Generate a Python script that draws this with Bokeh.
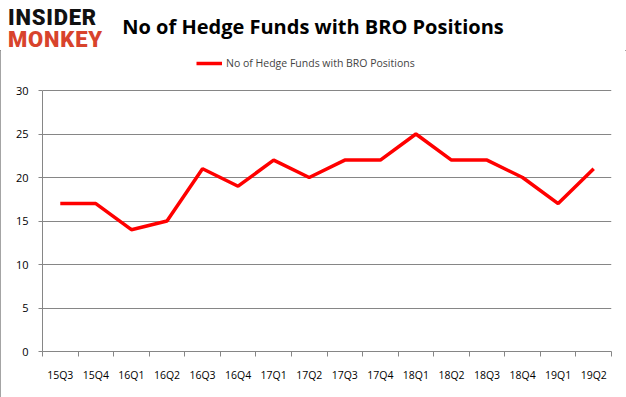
from bokeh.plotting import figure
from bokeh.layouts import column
from bokeh.models import (FixedTicker, Range1d, Legend, LegendItem,
                          ColumnDataSource, Div)
from bokeh.embed import file_html
from bokeh.resources import INLINE

quarters = ["15Q3", "15Q4", "16Q1", "16Q2", "16Q3", "16Q4", "17Q1", "17Q2",
            "17Q3", "17Q4", "18Q1", "18Q2", "18Q3", "18Q4", "19Q1", "19Q2"]
funds = [17, 17, 14, 15, 21, 19, 22, 20, 22, 22, 25, 22, 22, 20, 17, 21]
y_ticks = [0, 5, 10, 15, 20, 25, 30]
series_name = "No of Hedge Funds with BRO Positions"
title_text = "No of Hedge Funds with BRO Positions"

W, H = 626, 397
HEAD = 50                       # header (logo + title) height
FL, FR, FB = 42, 611, 351       # frame edges in page pixels
Y30 = 90                        # page y of the value 30
y_max = 30
n = len(quarters)
centers = [i + 0.5 for i in range(n)]
bounds = list(range(n + 1))
# frame begins right under the header so that the legend sits inside it
y_top = y_max * (FB - HEAD) / (FB - Y30)

GRAY = "#868686"
FONT = "Open Sans"

header = Div(width=W, height=HEAD, margin=(0, 0, 0, 0), text=f"""
<div style="position:relative;width:{W}px;height:{HEAD}px;background:white;">
  <span style="position:absolute;left:8px;top:8px;font-family:Roboto;font-weight:900;
               font-size:22px;line-height:20px;color:#111111;letter-spacing:0.8px;">INSIDER</span>
  <span style="position:absolute;left:8px;top:30px;font-family:Roboto;font-weight:900;
               font-size:22px;line-height:20px;color:#d8432c;letter-spacing:0.8px;">MONKEY</span>
  <span style="position:absolute;left:0px;width:{W}px;top:15px;text-align:center;
               font-family:'Open Sans';font-weight:bold;font-size:20px;line-height:24px;
               color:#000000;white-space:nowrap;">{title_text}</span>
</div>""")

p = figure(width=W, height=H - HEAD, output_backend="svg", toolbar_location=None,
           x_range=Range1d(0, n), y_range=Range1d(0, y_top),
           min_border_left=FL, min_border_right=W - FR, min_border_top=0,
           min_border_bottom=H - FB, margin=(0, 0, 0, 0))
p.background_fill_color = "white"
p.border_fill_color = "white"
p.outline_line_color = None

src = ColumnDataSource(dict(x=centers, y=funds))
r = p.line("x", "y", source=src, line_color="#ff0000", line_width=3.5)

# axes
p.xaxis.ticker = FixedTicker(ticks=centers, minor_ticks=bounds)
p.xaxis.major_label_overrides = {c: q for c, q in zip(centers, quarters)}
p.xaxis.major_tick_line_color = None
p.xaxis.major_tick_out = 0
p.xaxis.minor_tick_line_color = GRAY
p.xaxis.minor_tick_out = 5
p.xaxis.minor_tick_in = 0
p.xaxis.major_label_standoff = 11
p.xaxis.axis_line_color = GRAY
p.xaxis.major_label_text_font = FONT
p.xaxis.major_label_text_font_size = "10.5px"
p.xaxis.major_label_text_color = "#000000"

p.yaxis.ticker = FixedTicker(ticks=y_ticks)
p.yaxis.bounds = (0, y_max)
p.yaxis.minor_tick_line_color = None
p.yaxis.major_tick_line_color = GRAY
p.yaxis.major_tick_out = 4
p.yaxis.major_tick_in = 0
p.yaxis.major_label_standoff = 10
p.yaxis.axis_line_color = GRAY
p.yaxis.major_label_text_font = FONT
p.yaxis.major_label_text_font_size = "11px"
p.yaxis.major_label_text_color = "#000000"

p.xgrid.grid_line_color = None
p.ygrid.ticker = FixedTicker(ticks=y_ticks)
p.ygrid.grid_line_color = GRAY

# legend (screen units measured from the frame's bottom-left corner)
legend = Legend(items=[LegendItem(label=series_name, renderers=[r])],
                orientation="horizontal", location=(196 - FL, FB - 70),
                label_text_font=FONT, label_text_font_size="10.5px",
                glyph_width=26, glyph_height=14, border_line_color=None,
                background_fill_alpha=0, margin=0, padding=0, label_standoff=4)
p.add_layout(legend)

page = column(header, p, spacing=0, margin=(0, 0, 0, 0))
page.styles = {"outline": "1px solid #868686", "outline-offset": "-1px"}

open("out.html", "w").write(file_html(page, INLINE))
